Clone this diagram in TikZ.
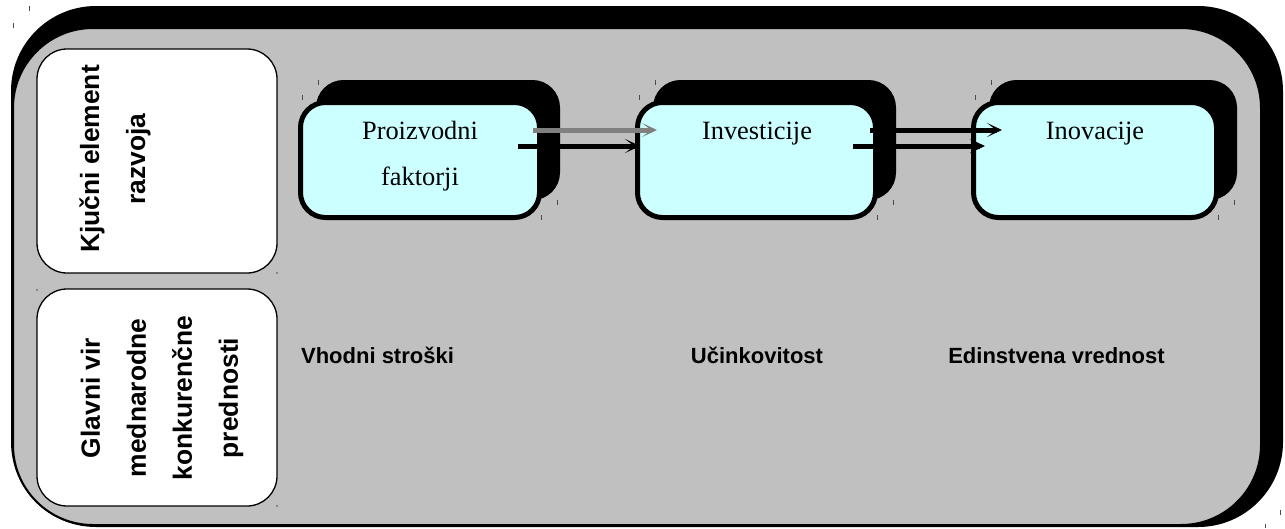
\documentclass[tikz,border=0pt]{standalone}
\usepackage{fontspec}
\setmainfont{Liberation Serif}
\newfontfamily\arialf{Liberation Sans}[BoldFont={Liberation Sans Bold}]
\usetikzlibrary{arrows.meta,shadows,calc}
\definecolor{panelgray}{HTML}{C0C0C0}
\definecolor{cyanbox}{HTML}{CCFFFF}
\definecolor{arrowgray}{HTML}{808080}
\begin{document}
\begin{tikzpicture}[x=1pt,y=-1pt,
  panel/.style={draw=black, line width=2pt, fill=panelgray, rounded corners=80pt, inner sep=0pt, outer sep=0pt},
  whitebox/.style={draw=black, line width=1.3pt, fill=white, rounded corners=30pt, inner sep=0pt, outer sep=0pt},
  bluebox/.style={draw=black, line width=5pt, fill=cyanbox, rounded corners=25pt, inner sep=0pt, outer sep=0pt,
    copy shadow={shadow xshift=18pt, shadow yshift=20pt, fill=black, draw=black}},
  rottext/.style={rotate=90, align=center, inner sep=0pt, font=\arialf\bfseries\fontsize{26.4}{46}\selectfont},
  serif/.style={align=center, inner sep=0pt, font=\fontsize{26.4}{46}\selectfont},
  lab/.style={inner sep=0pt, font=\arialf\bfseries\fontsize{22}{26}\selectfont},
  conn/.style={line width=5pt, -{Stealth[length=15pt,width=14pt,inset=9pt]}},
  connlight/.style={conn, draw=arrowgray, -{Stealth[length=15pt,width=14pt,inset=9pt,fill=arrowgray]}},
  speck/.style={draw=black!70, line width=0.8pt}]
\useasboundingbox (0,0) rectangle (1285,528);

% outer frame with shadow
\fill[black, rounded corners=85pt] (11,6) rectangle (1283,527);
\node[panel, minimum width=1248pt, minimum height=497pt] (frame) at (637,276.5) {};

% left row headers
\node[whitebox, minimum width=240pt, minimum height=224pt] (k1) at (157,161) {};
\node[whitebox, minimum width=240pt, minimum height=217pt] (k2) at (157,397.5) {};
\node[rottext] (t1) at (115,159) {Kjučni element\\razvoja};
\node[rottext] (t2) at (162,398) {Glavni vir\\mednarodne\\konkurenčne\\prednosti};

% stage boxes
\node[bluebox, minimum width=239pt, minimum height=115pt] (A) at (420,160) {};
\node[bluebox, minimum width=238pt, minimum height=115pt] (B) at (756.5,160) {};
\node[bluebox, minimum width=243pt, minimum height=115pt] (C) at (1095,160) {};

\node[serif, anchor=base] (tA) at (420,185) {Proizvodni\\faktorji};
\node[serif, anchor=base] (tB) at (757,139) {Investicije};
\node[serif, anchor=base] (tC) at (1095,139) {Inovacije};

% bottom labels
\node[lab, anchor=base] (l1) at (377.5,363) {Vhodni stroški};
\node[lab, anchor=base] (l2) at (757,363) {Učinkovitost};
\node[lab, anchor=base] (l3) at (1056.5,363) {Edinstvena vrednost};

% connectors
\draw[connlight] ([xshift=-6.5pt,yshift=30pt]A.east) -- ([xshift=19.5pt,yshift=30pt]B.west);
\draw[conn] ([xshift=-21.5pt,yshift=14pt]A.east) -- ([xshift=2.5pt,yshift=14pt]B.west);
\draw[conn] ([xshift=-5.5pt,yshift=30pt]B.east) -- ([xshift=28.5pt,yshift=30pt]C.west);
\draw[conn] ([xshift=-22.5pt,yshift=14pt]B.east) -- ([xshift=11.5pt,yshift=14pt]C.west);

% small marks
\foreach \b in {A,B,C} {
  \draw[speck] ([shift={(1.5,-7.5)}]\b.north west) -- ++(0,5);
  \draw[speck] ([shift={(17.5,-22.5)}]\b.north west) -- ++(0,5);
  \draw[speck] ([shift={(1.5,-2.5)}]\b.south east) -- ++(0,5);
  \draw[speck] ([shift={(17.5,-17.5)}]\b.south east) -- ++(0,5);
}
\draw[speck] (29,6) -- (29,11);
\draw[speck] (13,23) -- (13,28);
\draw[speck] (1280,510) -- (1280,515);
\draw[speck] (1265,524) -- (1265,528);
\fill[black!70] (k1.south east) circle (0.8pt);
\fill[black!70] ([shift={(0,1)}]k2.north west) circle (0.8pt);
\fill[black!70] (k2.south east) circle (0.8pt);
\end{tikzpicture}
\end{document}
